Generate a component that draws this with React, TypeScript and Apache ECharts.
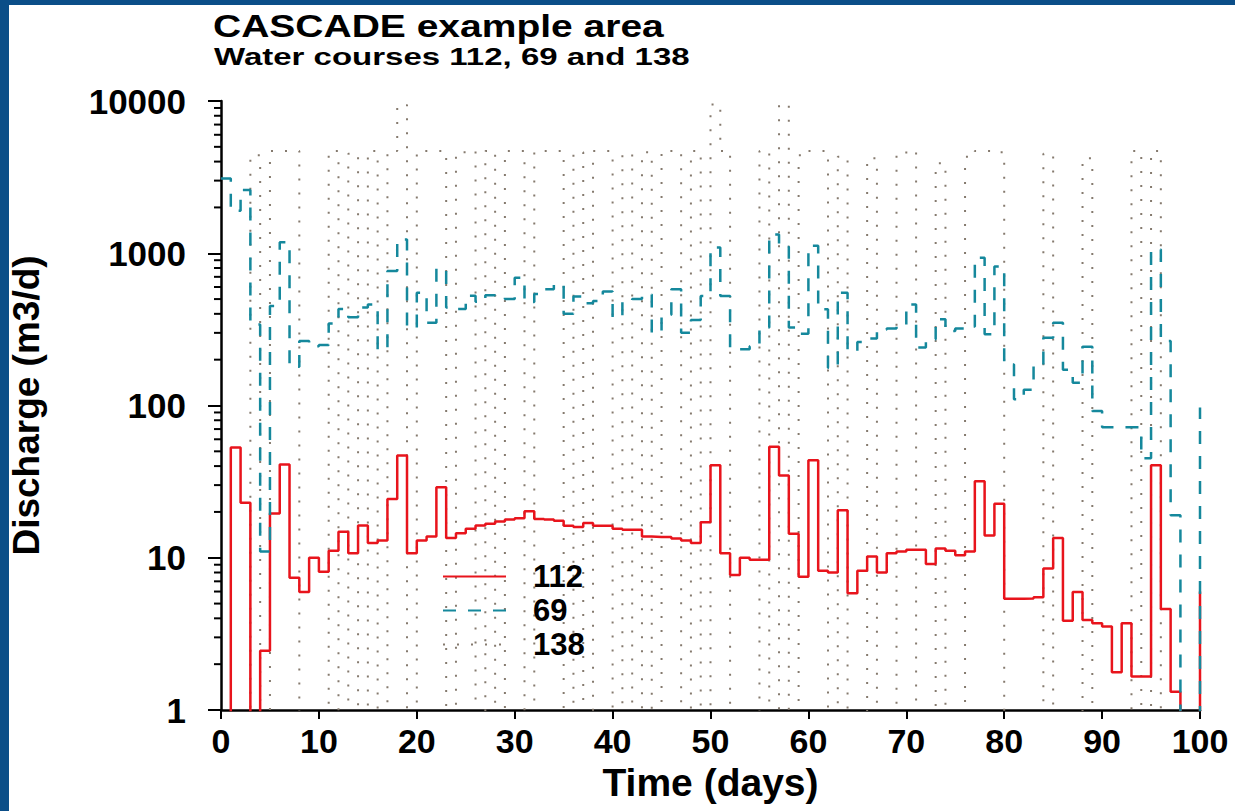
import React, { useEffect, useRef } from 'react';
import * as echarts from 'echarts';

const FONT = '"Liberation Sans", Arial, Helvetica, sans-serif';

// Day index (start of each daily time step), 0..100
const days: number[] = [
  0, 1, 2, 3, 4, 5, 6, 7, 8, 9, 10, 11, 12, 13, 14, 15, 16, 17, 18, 19,
  20, 21, 22, 23, 24, 25, 26, 27, 28, 29, 30, 31, 32, 33, 34, 35, 36, 37, 38, 39,
  40, 41, 42, 43, 44, 45, 46, 47, 48, 49, 50, 51, 52, 53, 54, 55, 56, 57, 58, 59,
  60, 61, 62, 63, 64, 65, 66, 67, 68, 69, 70, 71, 72, 73, 74, 75, 76, 77, 78, 79,
  80, 81, 82, 83, 84, 85, 86, 87, 88, 89, 90, 91, 92, 93, 94, 95, 96, 97, 98, 99, 100,
];

// Water course 112 (m3/d); 0.01 = no discharge (below the log axis)
const wc112: number[] = [
  0.01, 53, 23, 0.01, 2.45, 19.5, 41, 7.4, 5.95, 10.0,
  8.1, 11.1, 14.8, 10.7, 16.3, 12.5, 13.0, 24.3, 46.9, 10.7,
  13.0, 13.8, 29.0, 13.5, 14.5, 15.5, 16.3, 16.7, 17.3, 17.8,
  18.2, 20.2, 18.0, 17.8, 17.5, 16.2, 15.9, 16.9, 16.2, 16.2,
  15.5, 15.3, 15.3, 13.8, 13.7, 13.7, 13.4, 13.0, 12.5, 17.1,
  40.5, 10.7, 7.7, 10.0, 9.7, 9.7, 53.5, 34.7, 14.4, 7.5,
  43.7, 8.2, 8.0, 20.5, 5.85, 8.2, 10.2, 8.0, 10.7, 11.0,
  11.3, 11.3, 9.1, 11.5, 11.1, 10.4, 11.0, 31.8, 14.0, 22.6,
  5.37, 5.37, 5.4, 5.5, 8.5, 13.5, 3.85, 5.95, 3.9, 3.72,
  3.53, 1.77, 3.72, 1.66, 1.66, 40.5, 4.6, 1.32, 0.01, 0.01,
  6,
];

// Water course 69 (m3/d)
const wc69: number[] = [
  3100, 1900, 2600, 340, 11, 450, 1180, 180, 265, 245,
  250, 345, 430, 380, 440, 460, 234, 765, 1230, 325,
  550, 350, 790, 440, 430, 525, 480, 530, 510, 500,
  690, 478, 540, 580, 626, 400, 520, 470, 485, 560,
  380, 478, 500, 535, 301, 395, 580, 301, 365, 524,
  1090, 524, 234, 234, 245, 325, 1330, 1100, 325, 296,
  1120, 428, 177, 550, 228, 261, 275, 316, 320, 330,
  460, 240, 272, 368, 308, 320, 330, 935, 294, 817,
  186, 110, 127, 181, 279, 349, 172, 141, 243, 92,
  72, 72, 72, 72, 45, 1060, 265, 19, 0.01, 0.01,
  97,
];

// Water course 138 (m3/d): switches between ~4700 and no discharge
const wc138: number[] = [
  0.01, 0.01, 0.01, 4400, 0.01, 4700, 4700, 4700, 0.01, 0.01,
  0.01, 4700, 0.01, 4500, 0.01, 4700, 0.01, 4700, 9400, 0.01,
  4700, 4700, 4700, 0.01, 4600, 4700, 0.01, 4700, 0.01, 4700,
  4700, 0.01, 4600, 4700, 4700, 0.01, 4600, 0.01, 4700, 4700,
  0.01, 4500, 0.01, 4600, 0.01, 4700, 4700, 0.01, 4700, 0.01,
  9500, 4700, 0.01, 0.01, 0.01, 4700, 0.01, 9500, 0.01, 4400,
  4700, 4700, 0.01, 4300, 0.01, 0.01, 4200, 0.01, 0.01, 4400,
  4700, 0.01, 0.01, 3900, 0.01, 0.01, 4300, 4700, 4700, 4600,
  0.01, 0.01, 0.01, 0.01, 4500, 0.01, 0.01, 0.01, 4200, 0.01,
  0.01, 0.01, 0.01, 4700, 0.01, 4700, 0.01, 0.01, 0.01, 0.01,
  0.01,
];

const xTicks: number[] = [0, 10, 20, 30, 40, 50, 60, 70, 80, 90, 100];
const yMinorTicks: number[] = [
  2, 3, 4, 5, 6, 7, 8, 9,
  20, 30, 40, 50, 60, 70, 80, 90,
  200, 300, 400, 500, 600, 700, 800, 900,
  2000, 3000, 4000, 5000, 6000, 7000, 8000, 9000,
];

const pairs = (vals: number[]) => days.map((d, i) => [d, vals[i]]);

export default function App() {
  const ref = useRef<HTMLDivElement>(null);
  useEffect(() => {
    if (!ref.current) return;
    const chart = echarts.init(ref.current, undefined, { renderer: 'svg' });
    const option: any = {
      animation: false,
      backgroundColor: '#ffffff',
      graphic: [
        { type: 'rect', left: 0, top: 0, shape: { width: 9, height: 811 }, style: { fill: '#0b4e88' }, z: 100 },
        { type: 'rect', left: 0, top: 0, shape: { width: 1235, height: 5 }, style: { fill: '#0b4e88' }, z: 100 },
        {
          type: 'text', x: 213, y: 11, scaleY: 0.78,
          style: { text: 'CASCADE example area', font: `bold 39px ${FONT}`, fill: '#000', textVerticalAlign: 'top' },
        },
        {
          type: 'text', x: 214, y: 45, scaleY: 0.72,
          style: { text: 'Water courses 112, 69 and 138', font: `bold 33px ${FONT}`, fill: '#000', textVerticalAlign: 'top' },
        },
      ],
      grid: { left: 213, right: 35, top: 101, bottom: 101, containLabel: false },
      legend: {
        data: ['112', '69', '138'],
        orient: 'vertical',
        left: 437,
        top: 556,
        itemWidth: 63,
        itemHeight: 14,
        itemGap: 3,
        selectedMode: false,
        itemStyle: { opacity: 0, borderWidth: 0 },
        textStyle: { fontSize: 31, fontWeight: 'bold', color: '#000', fontFamily: FONT, padding: [0, 0, 0, 22] },
      },
      xAxis: {
        type: 'value',
        min: 0,
        max: 100,
        interval: 10,
        name: 'Time (days)',
        nameLocation: 'middle',
        nameGap: 50,
        nameTextStyle: { fontSize: 39, fontWeight: 'bold', color: '#000', fontFamily: FONT },
        axisLine: { lineStyle: { color: '#000', width: 2.5 } },
        axisTick: { show: true, length: 9, lineStyle: { color: '#000', width: 2 } },
        axisLabel: { fontSize: 34, fontWeight: 'bold', color: '#000', fontFamily: FONT, margin: 14,
          customValues: xTicks },
        splitLine: { show: false },
      },
      yAxis: {
        type: 'log',
        logBase: 10,
        min: 1,
        max: 10000,
        name: 'Discharge (m3/d)',
        nameLocation: 'middle',
        nameGap: 176,
        nameTextStyle: { fontSize: 37, fontWeight: 'bold', color: '#000', fontFamily: FONT },
        axisLine: { show: true, lineStyle: { color: '#000', width: 2.5 } },
        axisTick: { show: true, length: 13, lineStyle: { color: '#000', width: 2 } },
        axisLabel: { fontSize: 35, fontWeight: 'bold', color: '#000', fontFamily: FONT, margin: 35,
          formatter: (v: number) => String(Math.round(v)) },
        splitLine: { show: false },
      },
      series: [
        {
          name: '138', type: 'line', step: 'end', data: pairs(wc138), symbol: 'none', showSymbol: false,
          lineStyle: { color: '#857a6e', width: 2, type: [2, 12] }, itemStyle: { color: '#857a6e' }, z: 2,
        },
        {
          name: '112', type: 'line', step: 'end', data: pairs(wc112), symbol: 'none', showSymbol: false,
          lineStyle: { color: '#e8141c', width: 2.5 }, itemStyle: { color: '#e8141c' }, z: 3,
        },
        {
          name: '69', type: 'line', step: 'end', data: pairs(wc69), symbol: 'none', showSymbol: false,
          lineStyle: { color: '#15889c', width: 2.5, type: [13, 12] }, itemStyle: { color: '#15889c' }, z: 4,
        },
        {
          name: 'minorTicks', type: 'custom', silent: true, clip: false,
          data: yMinorTicks.map((v) => [0, v]),
          renderItem: (params: any, api: any) => {
            const p = api.coord([0, api.value(1)]);
            return {
              type: 'line',
              shape: { x1: p[0] - 7, y1: p[1], x2: p[0], y2: p[1] },
              style: { stroke: '#000', lineWidth: 2 },
            };
          },
          z: 5,
        },
      ],
    };
    chart.setOption(option);
    return () => chart.dispose();
  }, []);
  return (
    <div
      ref={ref}
      style={{ position: 'fixed', left: 0, top: 0, width: 1235, height: 811 }}
    />
  );
}
